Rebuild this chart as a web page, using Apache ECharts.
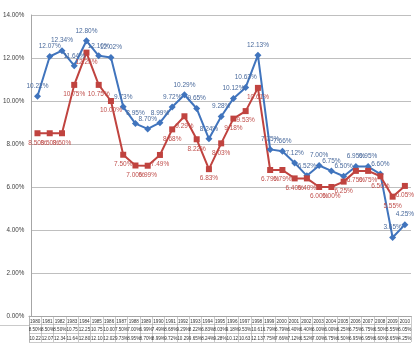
<!DOCTYPE html>
<html><head><meta charset="utf-8">
<script src="https://cdn.jsdelivr.net/npm/echarts@6/dist/echarts.min.js"></script>
<style>html,body{margin:0;padding:0;background:#fff}#c{width:416px;height:344px}</style>
</head><body><div id="c"></div>
<script>
const years = ['1980','1981','1982','1983','1984','1985','1986','1987','1988','1989','1990','1991','1992','1993','1994','1995','1996','1997','1998','1999','2000','2001','2002','2003','2004','2005','2006','2007','2008','2009','2010'];
const redSeries = [8.50,8.50,8.50,10.75,12.25,10.75,10.00,7.50,7.00,6.99,7.49,8.68,9.29,8.22,6.83,8.03,9.18,9.53,10.61,6.79,6.79,6.40,6.40,6.00,6.00,6.25,6.75,6.75,6.50,5.55,6.05];
const blueSeries = [10.22,12.07,12.34,11.64,12.80,12.10,12.02,9.73,8.95,8.70,8.99,9.72,10.29,9.65,8.24,9.28,10.12,10.63,12.13,7.75,7.66,7.12,6.52,7.00,6.75,6.50,6.95,6.95,6.60,3.65,4.25];
const yMin = 0, yMax = 14, yStep = 2;

const pct = v => v.toFixed(2) + '%';
const cell = v => pct(v).slice(0, 5);
const FONT = 'Liberation Sans';
const chart = echarts.init(document.getElementById('c'), null, {renderer: 'canvas'});
chart.setOption({
  animation: false,
  backgroundColor: '#fff',
  textStyle: {fontFamily: FONT},
  grid: [
    {left: 29, right: 5, top: 15, bottom: 28},
    {left: 29, right: 5, top: 316, height: 26},
    {left: 0, width: 29, top: 316, height: 9}
  ],
  xAxis: [
    {gridIndex: 0, type: 'category', data: years, boundaryGap: true,
     axisLine: {lineStyle: {color: '#a6a6a6'}}, axisTick: {show: false}, axisLabel: {show: false}},
    {gridIndex: 1, type: 'category', data: years, boundaryGap: true, position: 'top',
     axisLine: {lineStyle: {color: '#a6a6a6'}}, axisTick: {show: false},
     splitLine: {show: true, lineStyle: {color: '#a6a6a6', width: 0.6}},
     axisLabel: {inside: true, interval: 0, margin: 1, fontSize: 4.6, lineHeight: 8.67,
       color: '#333', verticalAlign: 'top',
       formatter: (v, i) => v + '\n' + cell(redSeries[i]) + '\n' + cell(blueSeries[i])}},
    {gridIndex: 2, type: 'value', min: 0, max: 1, position: 'bottom',
     axisLine: {show: true, lineStyle: {color: '#a6a6a6', width: 0.6}}, axisTick: {show: false},
     axisLabel: {show: false}, splitLine: {show: false}}
  ],
  yAxis: [
    {gridIndex: 0, type: 'value', min: yMin, max: yMax, interval: yStep,
     axisLine: {show: true, lineStyle: {color: '#a6a6a6'}}, axisTick: {show: false},
     splitLine: {lineStyle: {color: '#bfbfbf'}},
     axisLabel: {formatter: v => pct(v), fontSize: 6.3, color: '#404040', margin: 7}},
    {gridIndex: 1, type: 'value', min: 0, max: 3, interval: 1, inverse: true,
     axisLine: {show: true, lineStyle: {color: '#a6a6a6', width: 0.6}}, axisTick: {show: false},
     axisLabel: {show: false}, splitLine: {show: true, lineStyle: {color: '#a6a6a6', width: 0.6}}},
    {gridIndex: 2, type: 'value', min: 0, max: 1, show: false}
  ],
  series: [
    {name: 'blue', type: 'line', xAxisIndex: 0, yAxisIndex: 0, data: blueSeries,
     symbol: 'diamond', symbolSize: 7, lineStyle: {color: '#4074bd', width: 2},
     itemStyle: {color: '#4074bd'},
     label: {show: true, position: 'top', distance: 3, fontSize: 6.5, color: '#4a6a9c', formatter: p => pct(p.value)}},
    {name: 'red', type: 'line', xAxisIndex: 0, yAxisIndex: 0, data: redSeries,
     symbol: 'rect', symbolSize: 6, lineStyle: {color: '#c0433f', width: 2},
     itemStyle: {color: '#c0433f'},
     label: {show: true, position: 'bottom', distance: 3, fontSize: 6.5, color: '#c0504d', formatter: p => pct(p.value)}}
  ]
});
</script></body></html>
